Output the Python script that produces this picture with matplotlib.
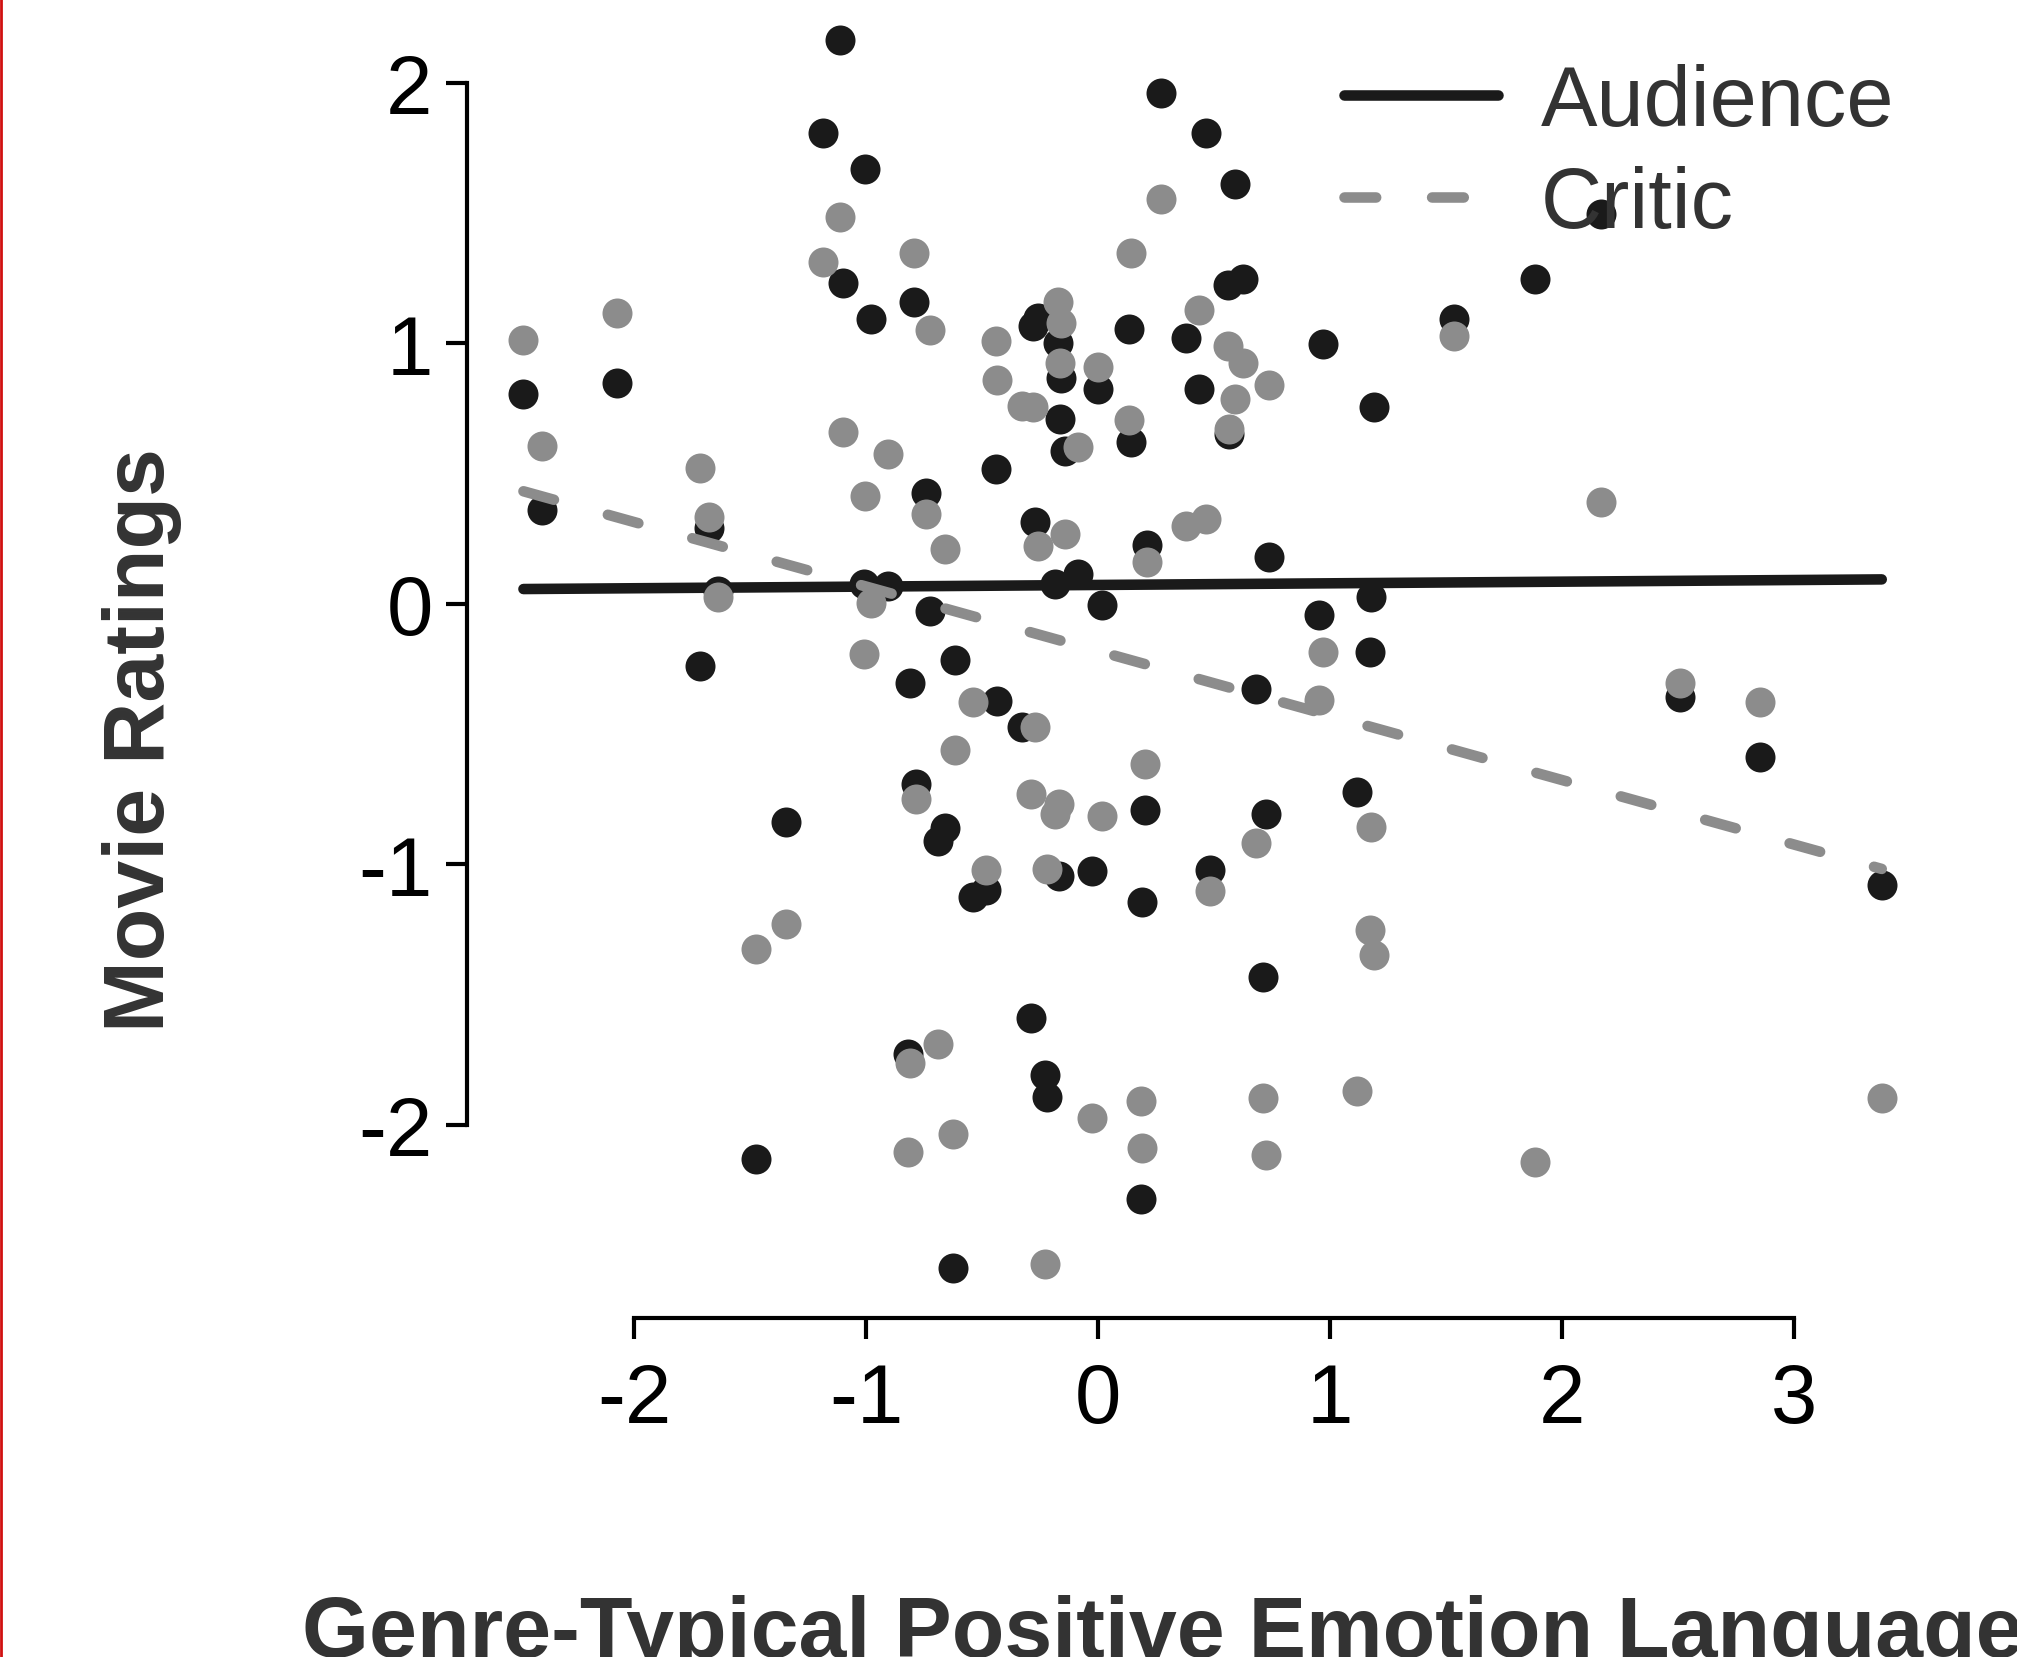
import numpy as np
import matplotlib
matplotlib.use('Agg')
import matplotlib.pyplot as plt
from matplotlib.lines import Line2D

plt.rcParams['font.family'] = ['Liberation Sans', 'DejaVu Sans']
plt.rcParams['axes.unicode_minus'] = False

# genre-typical positive emotion language (shared by both rating types)
emotion = [-2.477, -2.397, -2.076, -1.716, -1.678, -1.637, -1.477, -1.346,
           -1.187, -1.111, -1.098, -1.011, -1.004, -0.978, -0.907, -0.820,
           -0.813, -0.792, -0.787, -0.744, -0.727, -0.691, -0.662, -0.628,
           -0.619, -0.540, -0.485, -0.440, -0.438, -0.328, -0.292, -0.282,
           -0.274, -0.260, -0.228, -0.221, -0.188, -0.174, -0.170, -0.164,
           -0.159, -0.145, -0.088, -0.026, -0.001, 0.017, 0.132, 0.142,
           0.185, 0.190, 0.203, 0.211, 0.272, 0.379, 0.432, 0.466,
           0.483, 0.559, 0.562, 0.588, 0.624, 0.680, 0.710, 0.724,
           0.734, 0.951, 0.968, 1.115, 1.169, 1.177, 1.188, 1.533,
           1.881, 2.168, 2.506, 2.853, 3.376]

audience = [0.803, 0.358, 0.848, -0.240, 0.291, 0.049, -2.133, -0.838,
            1.808, 2.164, 1.230, 0.074, 1.670, 1.091, 0.068, -1.730,
            -0.306, 1.158, -0.691, 0.426, -0.028, -0.911, -0.860, -2.549,
            -0.216, -1.126, -1.099, 0.516, -0.374, -0.474, -1.592, 1.066,
            0.314, 1.098, -1.811, -1.894, 0.074, 1.002, -1.045, 0.710,
            0.865, 0.586, 0.112, -1.025, 0.823, -0.005, 1.053, 0.622,
            -2.287, -1.144, -0.794, 0.224, 1.961, 1.021, 0.823, 1.805,
            -1.023, 1.223, 0.650, 1.610, 1.245, -0.329, -1.433, -0.809,
            0.177, -0.044, 0.995, -0.722, -0.184, 0.026, 0.755, 1.091,
            1.245, 1.494, -0.359, -0.589, -1.081]

critic = [1.011, 0.605, 1.114, 0.522, 0.333, 0.026, -1.327, -1.229,
          1.313, 1.484, 0.659, -0.192, 0.413, 0.004, 0.573, -2.107,
          -1.765, 1.347, -0.749, 0.343, 1.049, -1.692, 0.211, -2.035,
          -0.562, -0.378, -1.023, 1.008, 0.859, 0.759, -0.732, 0.755,
          -0.474, 0.221, -2.536, -1.020, -0.809, 1.158, -0.768, 0.925,
          1.076, 0.266, 0.602, -1.975, 0.909, -0.815, 0.705, 1.347,
          -1.909, -2.091, -0.617, 0.161, 1.552, 0.298, 1.127, 0.324,
          -1.103, 0.989, 0.669, 0.787, 0.922, -0.918, -1.899, -2.117,
          0.838, -0.371, -0.186, -1.871, -1.254, -0.858, -1.349, 1.027,
          -2.144, 0.390, -0.304, -0.378, -1.899]

series = ['Audience', 'Critic']
colors = ['#1a1a1a', '#8c8c8c']

x = np.array(emotion)
fig = plt.figure(figsize=(20.17, 16.58), dpi=100)
ax = fig.add_axes([0.24537, 0.21900, 0.70184, 0.76984])

xs = np.array([x.min(), x.max()])
handles = []
for name, ys, col, z in zip(series, [audience, critic], colors, [1, 3]):
    ys = np.array(ys)
    ax.plot(x, ys, 'o', ms=21.6, color=col, mec='none', zorder=z)
    slope, icpt = np.polyfit(x, ys, 1)
    if name == 'Critic':
        ls = (0, (3.0, 5.3))
    else:
        ls = '-'
    ln, = ax.plot(xs, icpt + slope * xs, color=col, lw=7.6, ls=ls,
                  solid_capstyle='round', dash_capstyle='round', zorder=z + 1)
    handles.append(ln)

ax.set_xlim(-2.6, 3.5)
ax.set_ylim(-2.65, 2.25)
ax.set_xticks([-2, -1, 0, 1, 2, 3])
ax.set_yticks([-2, -1, 0, 1, 2])

for side in ['top', 'right']:
    ax.spines[side].set_visible(False)
ax.spines['left'].set_position(('outward', 19.9))
ax.spines['bottom'].set_position(('outward', 17.6))
ax.spines['left'].set_bounds(-2, 2)
ax.spines['bottom'].set_bounds(-2, 3)
for side in ['left', 'bottom']:
    ax.spines[side].set_linewidth(3.0)
ax.tick_params(width=3.0, length=14.9, labelsize=60, colors='black')
ax.tick_params(axis='y', pad=10)
ax.tick_params(axis='x', pad=16)

leg = ax.legend(handles, series, loc='upper left',
                bbox_to_anchor=(1344 / 2017, 1 - 64 / 1658),
                bbox_transform=fig.transFigure, frameon=False, fontsize=61,
                handlelength=1.82, handletextpad=0.5, labelspacing=0.26,
                borderpad=0, borderaxespad=0)
for t in leg.get_texts():
    t.set_color('#333333')

fig.text(142 / 2017, 1 - 740 / 1658, 'Movie Ratings', rotation=90,
         ha='center', va='center', fontsize=62, fontweight='bold', color='#333333')
fig.text(302 / 2017, 0.0006, 'Genre-Typical Positive Emotion Language',
         ha='left', va='baseline', fontsize=62, fontweight='bold', color='#333333')

fig.add_artist(Line2D([0.00065, 0.00065], [0, 1], color='#d01010', lw=2.0))

fig.savefig('out.png', dpi=100)
